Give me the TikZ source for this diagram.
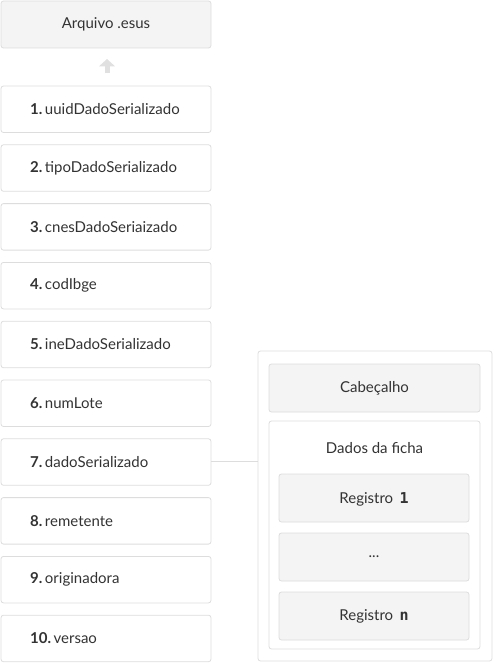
\documentclass[tikz,border=0pt]{standalone}
\usepackage{fontspec}
\setmainfont{Lato}
\newfontfamily\codefont{DejaVu Sans Mono}
\usetikzlibrary{arrows.meta}
\definecolor{boxline}{HTML}{DDDDDD}
\definecolor{boxgray}{HTML}{F4F4F4}
\definecolor{txt}{HTML}{333333}
\definecolor{arrowgray}{HTML}{E0E0E0}
\begin{document}
\begin{tikzpicture}[x=1pt,y=-1pt,
  every node/.style={font=\fontsize{15}{18}\selectfont, text=txt},
  base/.style={draw=boxline, line width=0.8pt, rounded corners=2.5pt, inner sep=0pt},
  graybox/.style={base, fill=boxgray},
  whitebox/.style={base, fill=white},
  conn/.style={draw=boxline, line width=0.8pt}]
\useasboundingbox (0,0) rectangle (493,663);
% top file box
\draw[graybox] (1,1) rectangle (211,48);
\node (arq) at (106,24.5) {Arquivo .esus};
% field boxes
\foreach \i/\lab [count=\n] in {1/uuidDadoSerializado,2/tipoDadoSerializado,3/cnesDadoSeriaizado,4/codIbge,5/ineDadoSerializado,6/numLote,7/dadoSerializado,8/remetente,9/originadora,10/versao}{
  \pgfmathsetmacro{\yt}{86+(\n-1)*58.8}
  \pgfmathsetmacro{\yb}{\yt+46.5}
  \pgfmathsetmacro{\ym}{\yt+23.25}
  \draw[whitebox] (1,\yt) rectangle (211,\yb);
  \node[anchor=west, inner sep=0pt] (f\n) at (30,\ym) {\textbf{\i.}\,\lab};
}
% arrow
\draw[-{Triangle[width=16pt,length=7.5pt]}, draw=arrowgray, fill=arrowgray, line width=5pt] (107,73.5) -- (107,59);
% right panel
\draw[whitebox] (258,351) rectangle (492,661);
\coordinate (panelL) at (258,461.5);
\coordinate (f7R) at (211,461.5);
\draw[conn] (f7R) -- (panelL);
\draw[graybox] (269,364) rectangle (480,412);
\node (cab) at (374.5,388) {Cabeçalho};
\draw[whitebox] (269,421) rectangle (480,649);
\node (dados) at (374.5,448) {Dados da ficha};
\draw[graybox] (279,474) rectangle (469,522);
\node (r1) at (374,499) {Registro\, {\codefont\bfseries 1}};
\draw[graybox] (279,533) rectangle (469,581);
\node (rdots) at (374,557) {...};
\draw[graybox] (279,592) rectangle (469,640);
\node (rn) at (374,616) {Registro\, {\codefont\bfseries n}};
\end{tikzpicture}
\end{document}
